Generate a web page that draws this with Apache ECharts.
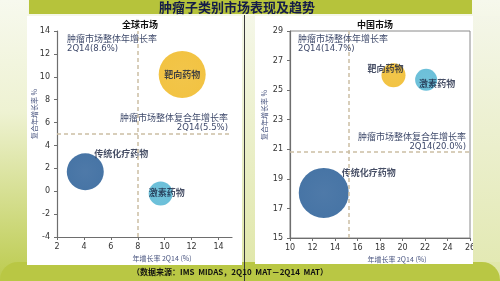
<!DOCTYPE html>
<html><head><meta charset="utf-8">
<script src="https://cdn.jsdelivr.net/npm/echarts@6/dist/echarts.min.js"></script>
<style>html,body{margin:0;padding:0;background:#fff}#c{width:500px;height:281px}</style>
</head><body><div id="c"></div>
<script>
// ---- data ----
const bubbleNames = ['靶向药物', '传统化疗药物', '激素药物'];
const globalGrowth = [11.3, 4.1, 9.7];     // 年增长率 2Q14 (%)
const globalCagr   = [10.2, 1.7, -0.2];    // 复合年增长率 (%)
const globalSize   = [47, 37, 24];         // 市场规模 (相对)
const chinaGrowth  = [19.2, 13.0, 22.1];
const chinaCagr    = [26.0, 18.05, 25.7];
const chinaSize    = [24, 50, 22];
const globalRef    = [8, 5];       // 整体年增长率 / 整体复合年增长率 参考线
const chinaRef     = [15.2, 20.8];
const globalXTicks = [2, 4, 6, 8, 10, 12, 14];
const globalYTicks = [-4, -2, 0, 2, 4, 6, 8, 10, 12, 14];
const chinaXTicks  = [10, 12, 14, 16, 18, 20, 22, 24, 26];
const chinaYTicks  = [15, 17, 19, 21, 23, 25, 27, 29];

// ---- styles ----
const colors = {'靶向药物': '#efb414', '传统化疗药物': '#19528f', '激素药物': '#47b0d0'};
const globalLabelPos = {'靶向药物': [0, 0], '传统化疗药物': [36, -18], '激素药物': [6, -1]};
const chinaLabelPos  = {'靶向药物': [-8, -7], '传统化疗药物': [45, -20], '激素药物': [11, 4]};
const CJK = '"Noto Sans CJK SC", sans-serif';
const LAT = '"DejaVu Sans", sans-serif';

function bubbles(xs, ys, ss, posMap) {
  return bubbleNames.map((n, i) => ({
    name: n,
    value: [xs[i], ys[i], ss[i]],
    itemStyle: {color: {type: 'radial', x: 0.5, y: 0.5, r: 0.5,
      colorStops: [{offset: 0, color: echarts.color.lift(colors[n], 0.04)}, {offset: 1, color: colors[n]}]}},
    label: {show: true, position: 'inside', offset: posMap[n], formatter: n,
      fontFamily: CJK, fontWeight: 'bold', fontSize: 9, color: '#18223f'}
  }));
}
function axis(grid, min, max, ticks, isX) {
  return {
    gridIndex: grid, type: 'value', min: min, max: max,
    axisLine: {show: true, onZero: false, lineStyle: {color: '#6e6e6e', width: 1.2}},
    axisTick: {show: true, length: 3, customValues: ticks, lineStyle: {color: '#6e6e6e'}},
    axisLabel: {customValues: ticks, fontSize: 8, fontFamily: LAT, color: '#333', margin: isX ? 6 : 7},
    splitLine: {show: false}
  };
}
function refLines(ref) {
  return {
    silent: true, symbol: ['none', 'none'], label: {show: false},
    lineStyle: {type: [4, 3], color: '#cbbfa4', width: 1.5},
    data: [{xAxis: ref[0]}, {yAxis: ref[1]}]
  };
}
function txt(x, y, s, o) {
  return Object.assign({type: 'text', x: x, y: y, z: 50,
    style: Object.assign({text: s, font: '9px ' + CJK, fill: '#3f4a6b', textVerticalAlign: 'middle'}, o || {})});
}

const chart = echarts.init(document.getElementById('c'), null, {renderer: 'canvas'});
chart.setOption({
  animation: false,
  backgroundColor: '#f3f5e4',
  grid: [
    {left: 57, top: 31, width: 175, height: 206},
    {left: 290, top: 31, width: 180, height: 207, show: true, borderColor: '#8a8a8a', borderWidth: 1, backgroundColor: 'transparent'}
  ],
  xAxis: [axis(0, 2, 15, globalXTicks, true), axis(1, 10, 26, chinaXTicks, true)],
  yAxis: [axis(0, -4, 14, globalYTicks, false), axis(1, 15, 29, chinaYTicks, false)],
  series: [
    {type: 'scatter', xAxisIndex: 0, yAxisIndex: 0, z: 3, symbolSize: v => v[2],
     data: bubbles(globalGrowth, globalCagr, globalSize, globalLabelPos), markLine: refLines(globalRef)},
    {type: 'scatter', xAxisIndex: 1, yAxisIndex: 1, z: 3, symbolSize: v => v[2],
     data: bubbles(chinaGrowth, chinaCagr, chinaSize, chinaLabelPos), markLine: refLines(chinaRef)}
  ],
  graphic: [
    // background
    {type: 'rect', z: -20, shape: {x: 0, y: 0, width: 500, height: 281},
     style: {fill: {type: 'linear', x: 0, y: 0, x2: 0, y2: 1, colorStops: [{offset: 0, color: '#f6f8ec'}, {offset: 1, color: '#dfe6a6'}]}}},
    {type: 'rect', z: -19, shape: {x: 0, y: 0, width: 28, height: 281},
     style: {fill: {type: 'linear', x: 0, y: 0, x2: 0, y2: 1, colorStops: [{offset: 0, color: '#f7f9ee'}, {offset: 0.4, color: '#eef2d2'}, {offset: 1, color: '#bccb4e'}]}}},
    {type: 'rect', z: -18, shape: {x: 0, y: 262, width: 500, height: 40, r: 18},
     style: {fill: '#b9c744'}},
    // title bar
    {type: 'rect', z: -5, shape: {x: 29, y: 0, width: 443, height: 14}, style: {fill: '#b6c33b'}},
    {type: 'text', z: 50, x: 237, y: 7, style: {text: '肿瘤子类别市场表现及趋势', font: 'bold 13px ' + CJK, fill: '#141c48', textAlign: 'center', textVerticalAlign: 'middle'}},
    // panels
    {type: 'rect', z: -5, shape: {x: 27, y: 16, width: 215, height: 249}, style: {fill: '#ffffff'}},
    {type: 'rect', z: -5, shape: {x: 255, y: 16, width: 218, height: 248}, style: {fill: '#ffffff'}},
    {type: 'line', z: 10, shape: {x1: 244.5, y1: 15, x2: 244.5, y2: 281}, style: {stroke: '#3a3a3a', lineWidth: 1}},
    // right strip covering clipped label
    {type: 'rect', z: 60, shape: {x: 473, y: 16, width: 27, height: 246},
     style: {fill: {type: 'linear', x: 0, y: 0, x2: 0, y2: 1, colorStops: [{offset: 0, color: '#f4f6e8'}, {offset: 1, color: '#e3e9b4'}]}}},
    // chart titles
    {type: 'text', z: 50, x: 140, y: 25, style: {text: '全球市场', font: 'bold 9px ' + CJK, fill: '#111', textAlign: 'center', textVerticalAlign: 'middle'}},
    {type: 'text', z: 50, x: 375, y: 25, style: {text: '中国市场', font: 'bold 9px ' + CJK, fill: '#111', textAlign: 'center', textVerticalAlign: 'middle'}},
    // axis names
    {type: 'text', z: 50, x: 162, y: 258, style: {text: '年增长率 2Q14 (%)', font: '7px ' + CJK, fill: '#4a5680', textAlign: 'center', textVerticalAlign: 'middle'}},
    {type: 'text', z: 50, x: 397, y: 259, style: {text: '年增长率 2Q14 (%)', font: '7px ' + CJK, fill: '#4a5680', textAlign: 'center', textVerticalAlign: 'middle'}},
    {type: 'text', z: 50, x: 34, y: 114, rotation: Math.PI / 2, style: {text: '复合年增长率 %', font: '7px ' + CJK, fill: '#4a5680', textAlign: 'center', textVerticalAlign: 'middle'}},
    {type: 'text', z: 50, x: 264, y: 115, rotation: Math.PI / 2, style: {text: '复合年增长率 %', font: '7px ' + CJK, fill: '#4a5680', textAlign: 'center', textVerticalAlign: 'middle'}},
    // annotations
    txt(67, 39, '肿瘤市场整体年增长率'),
    txt(67, 49, '2Q14(8.6%)', {font: '8.5px ' + LAT}),
    txt(228, 118, '肿瘤市场整体复合年增长率', {textAlign: 'right'}),
    txt(228, 128, '2Q14(5.5%)', {textAlign: 'right', font: '8.5px ' + LAT}),
    txt(298, 39, '肿瘤市场整体年增长率'),
    txt(298, 49, '2Q14(14.7%)', {font: '8.5px ' + LAT}),
    txt(466, 137, '肿瘤市场整体复合年增长率', {textAlign: 'right'}),
    txt(466, 147, '2Q14(20.0%)', {textAlign: 'right', font: '8.5px ' + LAT}),
    // source
    {type: 'text', z: 50, x: 230, y: 272, style: {text: '（数据来源：IMS  MIDAS，2Q10  MAT－2Q14  MAT）', font: 'bold 8px ' + CJK, fill: '#111', textAlign: 'center', textVerticalAlign: 'middle'}}
  ]
});
</script></body></html>
